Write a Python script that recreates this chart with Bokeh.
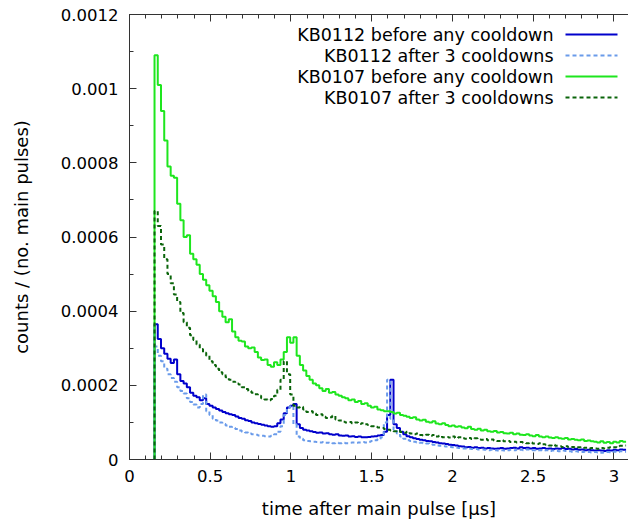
from bokeh.plotting import figure
from bokeh.models import Range1d, LinearAxis, FixedTicker, Label
from bokeh.embed import file_html
from bokeh.resources import INLINE
import numpy as np

# ---------------- data ----------------
# histogram bins (time after main pulse, microseconds)
bin_start = 0.155
bin_width = 0.02
scale = 1e-6  # values below are in units of 1e-6 counts / main pulse

kb0112_before = [
    365, 325, 300, 285, 272, 260, 270, 230, 212, 205,
    195, 180, 172, 168, 160, 165, 150, 145, 140, 136,
    132, 128, 125, 122, 120, 116, 112, 110, 106, 104,
    100, 98, 96, 94, 92, 90, 88, 90, 98, 108,
    125, 140, 145, 150, 95, 85, 80, 78, 76, 74,
    72, 73, 70, 71, 68, 67, 68, 65, 64, 65,
    62, 63, 61, 62, 60, 60, 61, 62, 63, 65,
    66, 75, 120, 215, 95, 85, 75, 68, 63, 60,
    57, 55, 53, 52, 50, 49, 47, 46, 44, 43,
    42, 40, 39, 38, 36, 35, 33, 34, 32, 33,
    31, 32, 30, 31, 30, 29, 30, 31, 29, 30,
    31, 32, 30, 33, 31, 32, 30, 31, 29, 30,
    31, 29, 30, 28, 30, 29, 31, 28, 29, 27,
    28, 26, 27, 25, 26, 25, 24, 25, 24, 23,
    25, 24, 26, 25, 27, 26,
]

kb0112_after = [
    305, 280, 265, 245, 230, 220, 210, 195, 185, 178,
    165, 155, 148, 140, 150, 175, 130, 120, 110, 105,
    100, 96, 92, 88, 85, 82, 78, 75, 73, 70,
    68, 67, 65, 64, 63, 62, 64, 68, 75, 90,
    120, 140, 145, 95, 62, 56, 52, 50, 49, 48,
    47, 46, 47, 45, 46, 44, 45, 44, 45, 44,
    45, 46, 45, 46, 47, 46, 48, 50, 52, 55,
    60, 100, 215, 110, 80, 70, 62, 56, 52, 50,
    48, 46, 45, 44, 43, 41, 40, 38, 37, 36,
    35, 34, 33, 32, 31, 30, 30, 29, 28, 28,
    27, 27, 26, 25, 26, 25, 24, 25, 24, 25,
    26, 25, 27, 26, 25, 27, 26, 25, 24, 25,
    24, 25, 23, 24, 23, 22, 24, 23, 22, 21,
    22, 21, 20, 21, 20, 19, 20, 19, 18, 19,
    20, 19, 21, 20, 22, 21,
]

kb0107_before = [
    1090, 1010, 940, 860, 790, 765, 760, 690, 645, 600,
    605, 555, 540, 525, 500, 485, 470, 455, 440, 425,
    400, 385, 370, 378, 345, 330, 320, 318, 305, 300,
    302, 290, 275, 268, 270, 255, 250, 262, 255, 270,
    290, 330, 315, 330, 280, 255, 240, 225, 215, 205,
    200, 192, 185, 190, 180, 182, 175, 172, 168, 165,
    160, 162, 155, 158, 150, 152, 145, 140, 142, 135,
    133, 130, 130, 128, 124, 126, 120, 118, 115, 112,
    114, 108, 105, 107, 102, 100, 103, 97, 95, 98,
    93, 90, 92, 88, 90, 86, 84, 88, 82, 80,
    83, 78, 80, 76, 75, 77, 73, 74, 71, 70,
    72, 68, 70, 67, 66, 68, 65, 63, 66, 62,
    60, 62, 59, 58, 60, 57, 56, 58, 54, 55,
    53, 52, 54, 50, 51, 49, 48, 46, 49, 45,
    47, 44, 48, 46, 50, 48,
]

kb0107_after = [
    670, 630, 580, 540, 500, 475, 445, 425, 395, 370,
    355, 335, 322, 310, 298, 288, 280, 265, 255, 245,
    235, 230, 222, 215, 210, 205, 202, 195, 190, 185,
    180, 176, 172, 165, 162, 160, 163, 172, 188, 215,
    265, 230, 175, 145, 140, 142, 135, 128, 130, 124,
    120, 122, 115, 112, 114, 118, 108, 105, 102, 100,
    101, 98, 100, 96, 98, 95, 93, 90, 88, 86,
    85, 82, 80, 78, 76, 78, 74, 72, 75, 70,
    68, 70, 66, 65, 67, 64, 66, 62, 64, 60,
    61, 59, 62, 58, 60, 57, 56, 58, 55, 57,
    54, 53, 55, 52, 54, 51, 50, 52, 49, 50,
    47, 48, 46, 47, 45, 44, 46, 43, 42, 44,
    41, 40, 38, 40, 37, 36, 34, 36, 33, 34,
    32, 33, 31, 32, 30, 31, 30, 29, 31, 30,
    32, 34, 33, 36, 37, 38,
]

series_labels = [
    "KB0112 before any cooldown",
    "KB0112 after 3 cooldowns",
    "KB0107 before any cooldown",
    "KB0107 after 3 cooldowns",
]
series_values = [kb0112_before, kb0112_after, kb0107_before, kb0107_after]

x_ticks = [0, 0.5, 1, 1.5, 2, 2.5, 3]
x_tick_labels = ["0", "0.5", "1", "1.5", "2", "2.5", "3"]
y_ticks = [0, 0.0002, 0.0004, 0.0006, 0.0008, 0.001, 0.0012]
y_tick_labels = ["0", "0.0002", "0.0004", "0.0006", "0.0008", "0.001", "0.0012"]

# ---------------- styling / layout ----------------
colors = ["#0000cc", "#6a9bea", "#1ee61e", "#0a640a"]
dashes = ["solid", "4 3", "solid", "4 3"]
FONT = "DejaVu Sans"
W, H = 628, 524
F_LEFT, F_TOP, F_BOTTOM, F_RIGHT = 129, 14, 459, 628
X_MAX = 3.09
Y_MAX = 0.0012

p = figure(width=W, height=H, output_backend="svg", toolbar_location=None,
           x_range=Range1d(0, X_MAX), y_range=Range1d(0, Y_MAX),
           x_axis_location=None, y_axis_location=None,
           min_border_left=F_LEFT, min_border_right=0,
           min_border_top=F_TOP, min_border_bottom=H - F_BOTTOM)
p.outline_line_color = None
p.xgrid.visible = False
p.ygrid.visible = False
p.background_fill_color = "white"
p.border_fill_color = "white"

axis_color = "#333333"


def style_axis(ax, ticks, labels, minor):
    ax.ticker = FixedTicker(ticks=ticks, minor_ticks=minor)
    ax.major_label_overrides = {t: l for t, l in zip(ticks, labels)}
    ax.axis_line_color = axis_color
    ax.major_tick_line_color = axis_color
    ax.minor_tick_line_color = axis_color
    ax.major_tick_in = 7
    ax.major_tick_out = 0
    ax.minor_tick_in = 4
    ax.minor_tick_out = 0
    ax.major_label_text_font = FONT
    ax.major_label_text_font_size = "16.5px"
    ax.major_label_text_color = "black"
    ax.axis_label_text_font = FONT
    ax.axis_label_text_font_size = "18px"
    ax.axis_label_text_font_style = "normal"
    ax.axis_label_text_color = "black"


x_minor = [round(0.1 * i, 2) for i in range(0, 31)]
y_minor = [round(0.0001 * i, 5) for i in range(0, 13)]

xaxis = LinearAxis(axis_label="time after main pulse [µs]")
style_axis(xaxis, x_ticks, x_tick_labels, x_minor)
xaxis.major_label_standoff = 10
xaxis.axis_label_standoff = 13
p.add_layout(xaxis, "below")

yaxis = LinearAxis(axis_label="counts / (no. main pulses)")
style_axis(yaxis, y_ticks, y_tick_labels, y_minor)
yaxis.major_label_standoff = 11
yaxis.axis_label_standoff = 26
p.add_layout(yaxis, "left")

topaxis = LinearAxis()
style_axis(topaxis, x_ticks, ["" for _ in x_ticks], x_minor)
topaxis.major_label_text_font_size = "0px"
topaxis.major_label_standoff = 0
p.add_layout(topaxis, "above")

# ---------------- histogram step lines ----------------
for vals, col, dash in zip(series_values, colors, dashes):
    v = np.asarray(vals, dtype=float) * scale
    edges = bin_start + bin_width * np.arange(len(v) + 1)
    xs = [edges[0]]
    ys = [0.0]
    for i in range(len(v)):
        xs += [edges[i], edges[i + 1]]
        ys += [v[i], v[i]]
    p.line(xs, ys, line_color=col, line_width=2, line_dash=dash)

# ---------------- legend (gnuplot style: text right, sample at right) ----------------
def px_x(px):
    return X_MAX * (px - F_LEFT) / (F_RIGHT - F_LEFT)


def px_y(py):
    return Y_MAX * (F_BOTTOM - py) / (F_BOTTOM - F_TOP)


row_y = [34, 55, 76, 97]
for lab, col, dash, ry in zip(series_labels, colors, dashes, row_y):
    p.add_layout(Label(x=px_x(553), y=px_y(ry), text=lab, text_align="right",
                       text_baseline="middle", text_font=FONT,
                       text_font_size="17.5px", text_color="black"))
    p.segment(x0=[px_x(565)], y0=[px_y(ry)], x1=[px_x(617)], y1=[px_y(ry)],
              line_color=col, line_width=2, line_dash=dash)

open("out.html", "w").write(file_html(p, INLINE))
